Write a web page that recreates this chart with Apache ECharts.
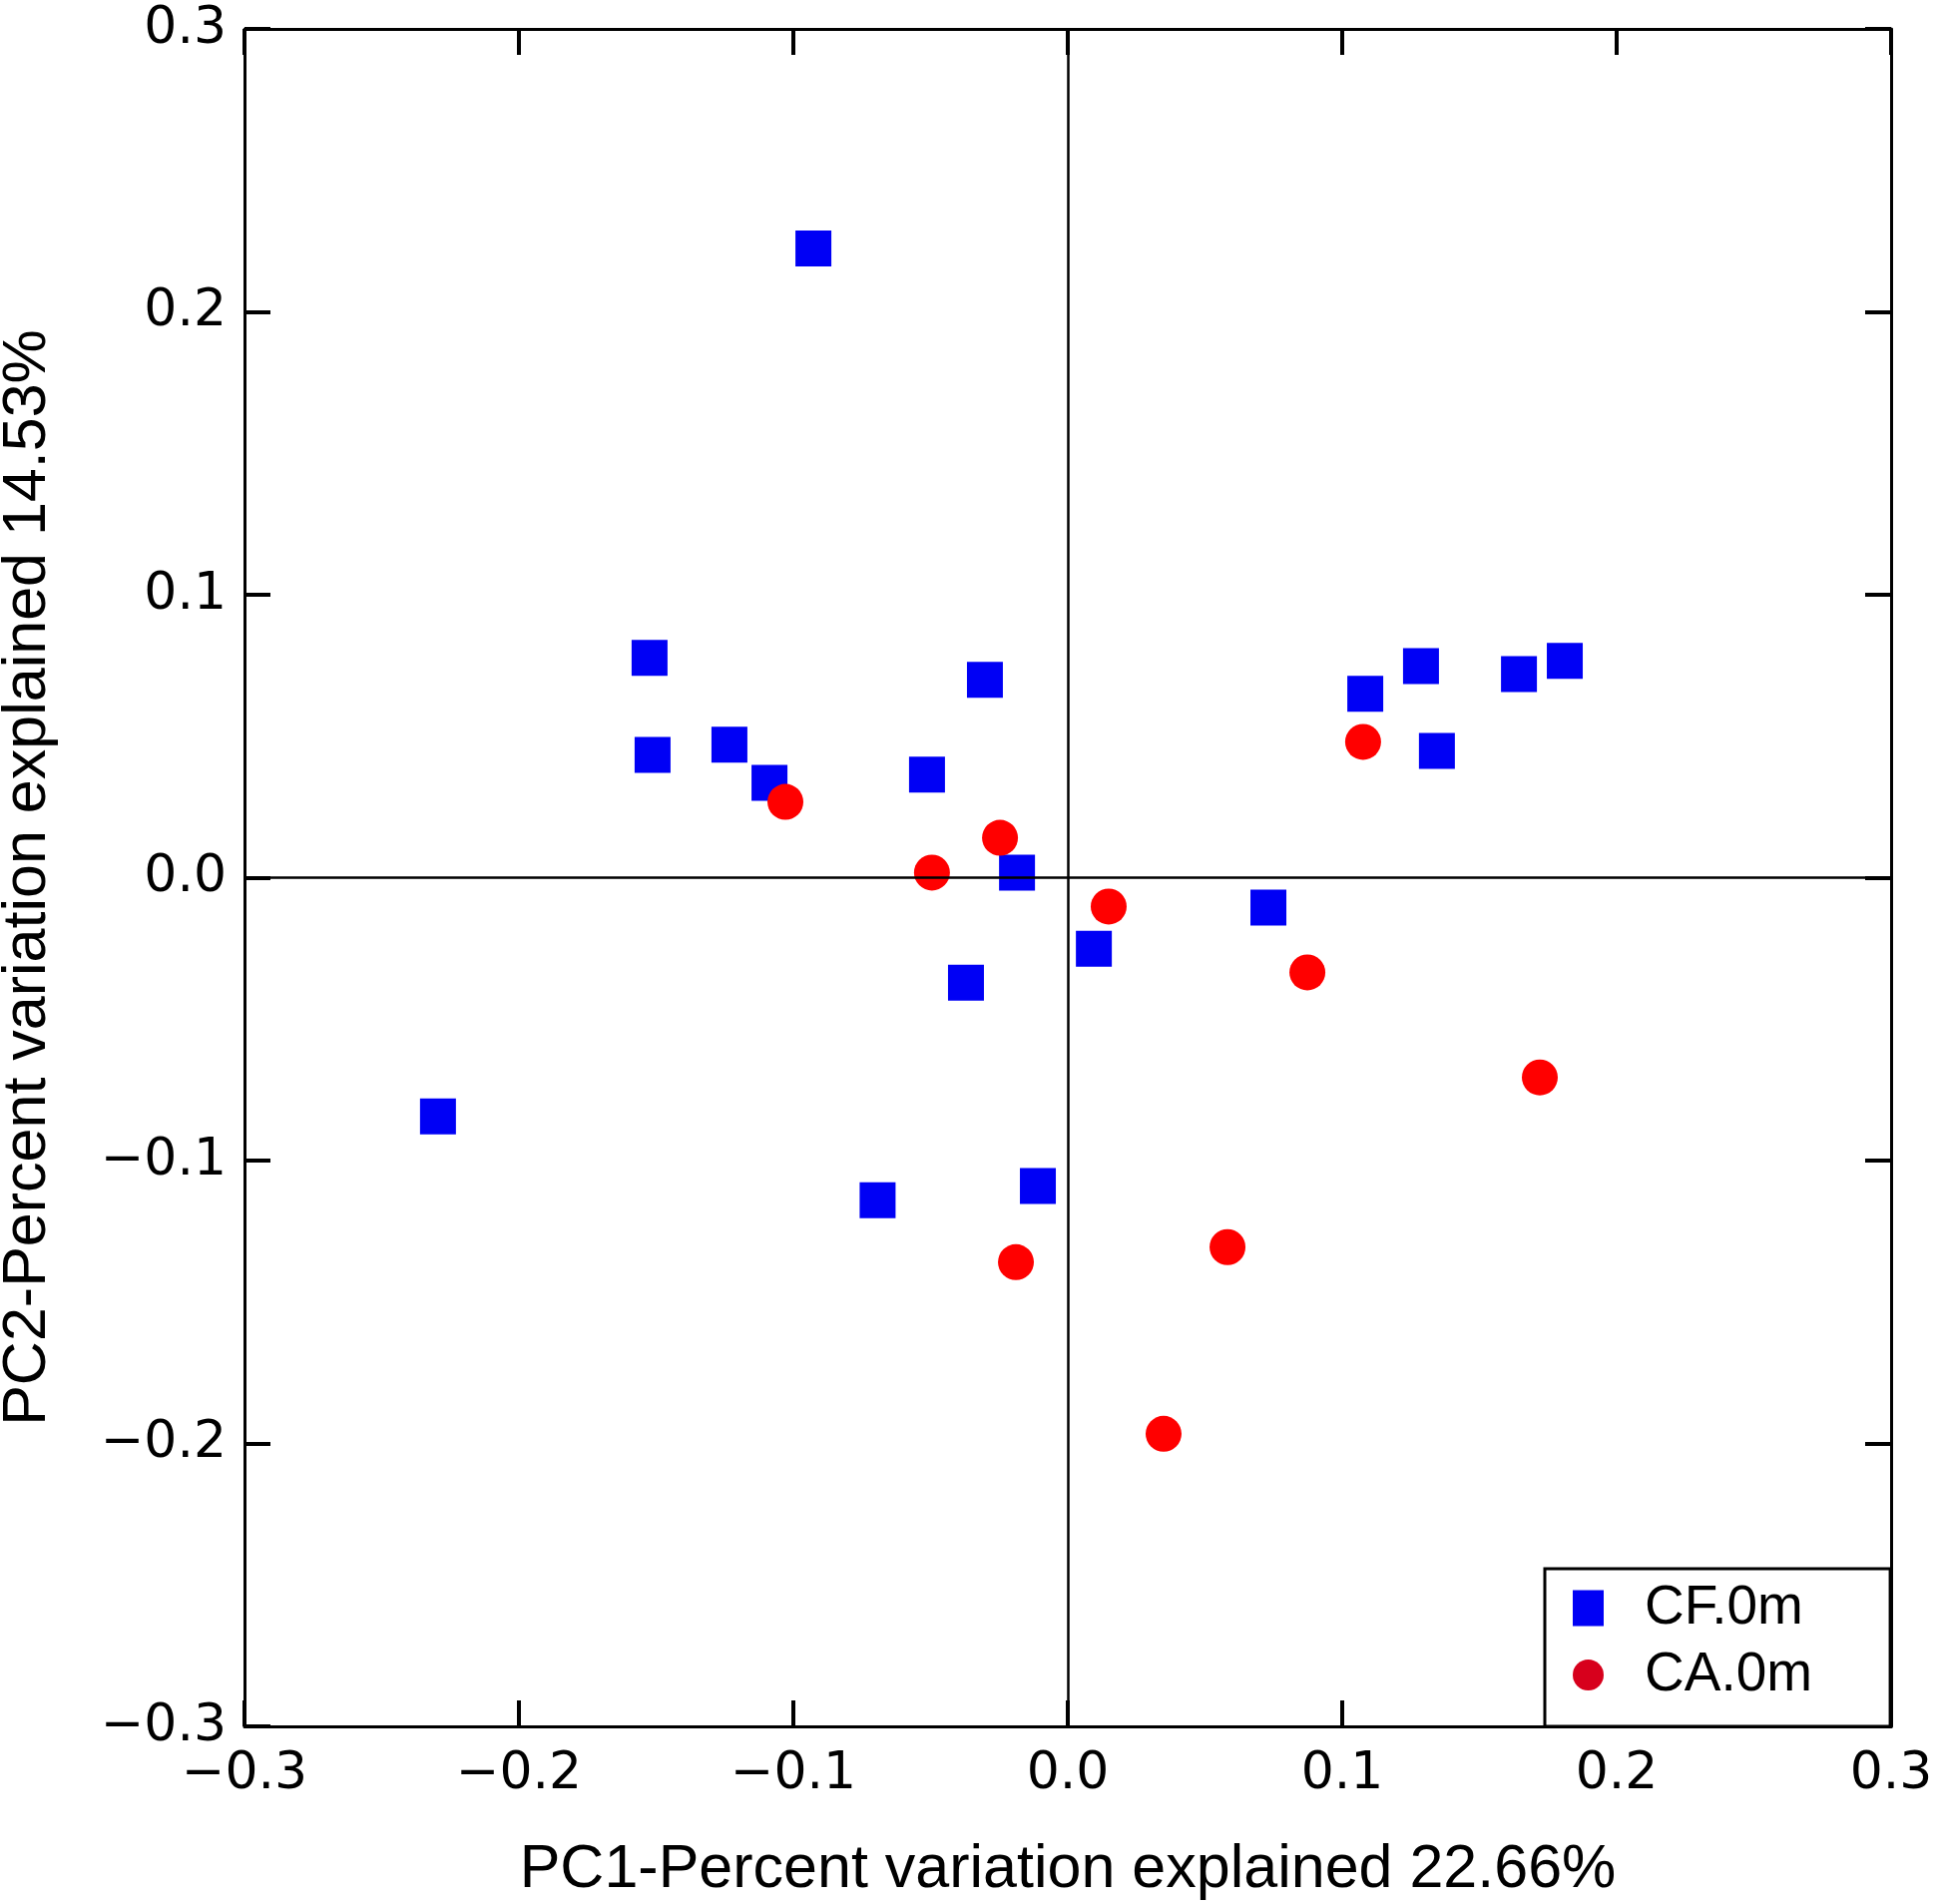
<!DOCTYPE html>
<html>
<head>
<meta charset="utf-8">
<script src="https://cdn.jsdelivr.net/npm/echarts@6/dist/echarts.min.js"></script>
<style>
  html, body { margin: 0; padding: 0; background: #fff; }
  #chart { width: 1940px; height: 1908px; }
</style>
</head>
<body>
<div id="chart"></div>
<script>
const cfX = [-0.0927, -0.1524, -0.1513, -0.1233, -0.1087, -0.0302, -0.0513, -0.0185, -0.0371, 0.0095,
  -0.2295, -0.0693, -0.0109, 0.0731, 0.1084, 0.1287, 0.1345, 0.1644, 0.1811]
const cfY = [0.2224, 0.0777, 0.0434, 0.0470, 0.0335, 0.0699, 0.0364, 0.0018, -0.0371, -0.0251,
  -0.0844, -0.1140, -0.1090, -0.0106, 0.0650, 0.0748, 0.0448, 0.0720, 0.0766]

const caX = [-0.1029, -0.0495, -0.0247, 0.0149, 0.1076, 0.0873, 0.1720, 0.0582, -0.0189, 0.0349]
const caY = [0.0268, 0.0018, 0.0141, -0.0102, 0.0480, -0.0335, -0.0706, -0.1306, -0.1359, -0.1966]

const seriesNames = ['CF.0m', 'CA.0m']
const axisMin = -0.3
const axisMax = 0.3
const axisStep = 0.1

const pairs = (xs, ys) => xs.map((x, i) => [x, ys[i]])
const fmt = (v) => (v < -1e-9 ? '\u2212' : '') + Math.abs(v).toFixed(1)

const chart = echarts.init(document.getElementById('chart'))

const tickStyle = { show: true, inside: true, length: 26, lineStyle: { color: '#000', width: 4 } }
const lineStyle = { show: true, onZero: false, lineStyle: { color: '#000', width: 3 } }
const labelStyle = {
  fontFamily: 'DejaVu Sans',
  fontSize: 52,
  color: '#000',
}
const nameStyle = { fontFamily: 'Liberation Sans', fontSize: 61, color: '#000' }

const baseAxis = {
  type: 'value',
  min: axisMin,
  max: axisMax,
  interval: axisStep,
  axisLine: lineStyle,
  axisTick: tickStyle,
  splitLine: { show: false },
}

chart.setOption({
  backgroundColor: '#fff',
  animation: false,
  grid: { left: 245, right: 45, top: 29, bottom: 178, containLabel: false, outerBoundsMode: 'none' },
  xAxis: [
    {
      ...baseAxis,
      position: 'bottom',
      axisLabel: { ...labelStyle, margin: 22, formatter: fmt },
      name: 'PC1-Percent variation explained 22.66%',
      nameLocation: 'middle',
      nameGap: 114,
      nameTextStyle: nameStyle,
    },
    { ...baseAxis, position: 'top', axisLabel: { show: false } },
  ],
  yAxis: [
    {
      ...baseAxis,
      position: 'left',
      axisLabel: { ...labelStyle, margin: 18, formatter: fmt },
      name: 'PC2-Percent variation explained 14.53%',
      nameLocation: 'middle',
      nameGap: 186,
      nameTextStyle: nameStyle,
    },
    { ...baseAxis, position: 'right', axisLabel: { show: false } },
  ],
  legend: {
    orient: 'vertical',
    left: 1548,
    bottom: 178,
    itemWidth: 31,
    itemHeight: 36,
    itemGap: 12,
    symbolKeepAspect: false,
    padding: [12, 78, 24, 28],
    borderColor: '#000',
    borderWidth: 3,
    backgroundColor: '#fff',
    textStyle: { fontFamily: 'Liberation Sans', fontSize: 55, color: '#000', padding: [0, 0, 0, 36] },
    data: [
      { name: seriesNames[0], icon: 'rect', itemStyle: { color: '#0000f5' } },
      { name: seriesNames[1], icon: 'circle', itemStyle: { color: '#d7001c' } },
    ],
  },
  series: [
    {
      name: seriesNames[0],
      type: 'scatter',
      symbol: 'rect',
      symbolSize: 36,
      itemStyle: { color: '#0000f5', opacity: 1 },
      data: pairs(cfX, cfY),
      z: 3,
      markLine: {
        silent: true,
        symbol: 'none',
        label: { show: false },
        lineStyle: { color: '#000', width: 2.5, type: 'solid' },
        data: [{ xAxis: 0 }, { yAxis: 0 }],
        z: 5,
      },
    },
    {
      name: seriesNames[1],
      type: 'scatter',
      symbol: 'circle',
      symbolSize: 36,
      itemStyle: { color: '#ff0000', opacity: 1 },
      data: pairs(caX, caY),
      z: 4,
    },
  ],
})
</script>
</body>
</html>
